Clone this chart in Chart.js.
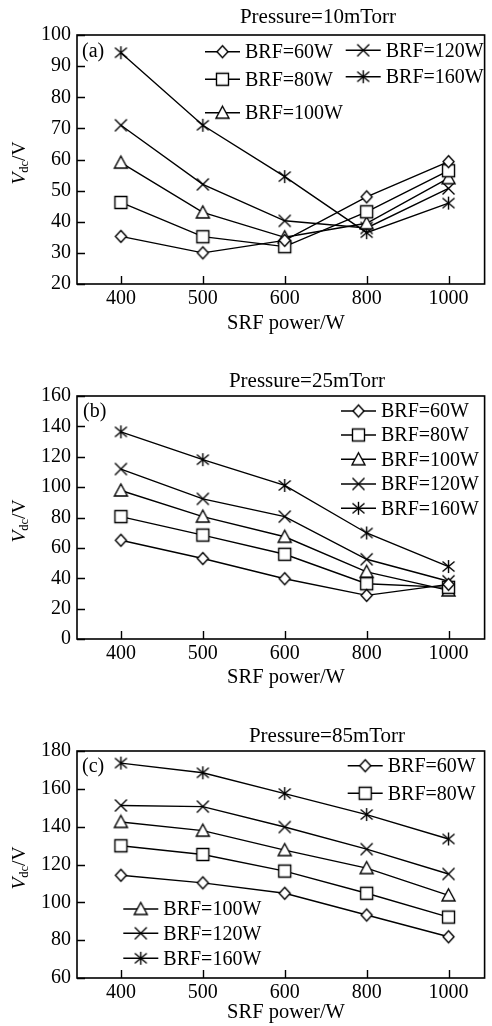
<!DOCTYPE html>
<html><head><meta charset="utf-8">
<script src="https://cdn.jsdelivr.net/npm/chart.js@4.4.0/dist/chart.umd.min.js"></script>
<style>
html,body{margin:0;padding:0;background:#fff;width:492px;height:1026px;overflow:hidden}
canvas{position:absolute;left:0;display:block}
</style></head><body>
<canvas id="ca" width="492" height="345" style="top:0px"></canvas>
<canvas id="cb" width="492" height="355" style="top:340px"></canvas>
<canvas id="cc" width="492" height="341" style="top:685px"></canvas>
<script>
// ---- data ----
const categories = ['400', '500', '600', '800', '1000'];
const seriesLabels = ['BRF=60W', 'BRF=80W', 'BRF=100W', 'BRF=120W', 'BRF=160W'];

const a60  = [35.3, 30.0, 34.0, 48.0, 59.3];
const a80  = [46.2, 35.2, 32.0, 43.2, 56.4];
const a100 = [59.0, 43.0, 35.0, 39.5, 54.0];
const a120 = [71.0, 52.0, 40.3, 38.0, 50.7];
const a160 = [94.3, 71.0, 54.5, 36.5, 46.0];

const b60  = [65.0, 53.0, 39.7, 28.7, 36.0];
const b80  = [80.6, 68.4, 55.8, 36.4, 34.0];
const b100 = [97.8, 80.6, 67.3, 44.2, 32.0];
const b120 = [111.9, 92.3, 80.6, 52.5, 38.0];
const b160 = [136.4, 118.1, 101.1, 69.8, 47.7];

const c60  = [114.3, 110.3, 104.8, 93.3, 81.8];
const c80  = [129.9, 125.3, 116.5, 104.8, 92.2];
const c100 = [142.5, 137.9, 127.6, 118.1, 103.7];
const c120 = [151.2, 150.6, 139.8, 128.1, 115.0];
const c160 = [173.6, 168.5, 157.5, 146.4, 133.5];

const yTicksA = [20, 100, 10];
const yTicksB = [0, 160, 20];
const yTicksC = [60, 180, 20];

const titles = ['Pressure=10mTorr', 'Pressure=25mTorr', 'Pressure=85mTorr'];
const tags = ['(a)', '(b)', '(c)'];

// ---- styling ----
const FONT = "'Liberation Serif', 'Times New Roman', serif";

function makeMarker(kind) {
  const s = 17, c = document.createElement('canvas');
  c.width = s; c.height = s;
  const g = c.getContext('2d');
  g.lineWidth = 1.4; g.strokeStyle = '#000'; g.fillStyle = '#fff';
  const m = s / 2;
  g.beginPath();
  if (kind === 'diamond') {
    g.moveTo(m, m - 6); g.lineTo(m + 5.5, m); g.lineTo(m, m + 6); g.lineTo(m - 5.5, m); g.closePath();
    g.fill(); g.stroke();
  } else if (kind === 'square') {
    g.rect(m - 6, m - 6, 12, 12); g.fill(); g.stroke();
  } else if (kind === 'triangle') {
    g.moveTo(m, m - 6.5); g.lineTo(m + 6.5, m + 5.5); g.lineTo(m - 6.5, m + 5.5); g.closePath();
    g.fill(); g.stroke();
  } else if (kind === 'x') {
    g.moveTo(m - 6, m - 6); g.lineTo(m + 6, m + 6);
    g.moveTo(m + 6, m - 6); g.lineTo(m - 6, m + 6); g.stroke();
  } else if (kind === 'star') {
    g.moveTo(m - 6, m - 5); g.lineTo(m + 6, m + 5);
    g.moveTo(m + 6, m - 5); g.lineTo(m - 6, m + 5);
    g.moveTo(m, m - 6.5); g.lineTo(m, m + 6.5); g.stroke();
  }
  return c;
}
const markers = ['diamond', 'square', 'triangle', 'x', 'star'].map(makeMarker);

const panels = [
  { id: 'ca', H: 345, series: [a60, a80, a100, a120, a160], yr: yTicksA, title: titles[0], tag: tags[0],
    padTop: 35, xH: 61, titleX: 318, titleDY: -18, xTitleDY: 40,
    tagPos: [82, 52],
    legend: [[0, 205, 51.7], [1, 205, 79.3], [2, 205, 112.7], [3, 345.7, 50.3], [4, 345.7, 76.7]] },
  { id: 'cb', H: 355, series: [b60, b80, b100, b120, b160], yr: yTicksB, title: titles[1], tag: tags[1],
    padTop: 56, xH: 56, titleX: 307, titleDY: -14.5, xTitleDY: 39,
    tagPos: [83, 71.5],
    legend: [[0, 341, 71], [1, 341, 95], [2, 341, 119.3], [3, 341, 144], [4, 341, 168.3]] },
  { id: 'cc', H: 341, series: [c60, c80, c100, c120, c160], yr: yTicksC, title: titles[2], tag: tags[2],
    padTop: 66, xH: 48, titleX: 327, titleDY: -15, xTitleDY: 35,
    tagPos: [82, 81.7],
    legend: [[0, 347.7, 80.7], [1, 347.7, 108.3], [2, 123.3, 224], [3, 123.3, 248.3], [4, 123.3, 273.3]] }
];

function framePlugin(p) {
  return {
    id: 'frame' + p.id,
    afterDatasetsDraw(chart) {
      const ctx = chart.ctx, a = chart.chartArea;
      ctx.save();
      ctx.strokeStyle = '#000'; ctx.fillStyle = '#000';
      // frame
      ctx.lineWidth = 1.6;
      ctx.strokeRect(a.left, a.top, a.right - a.left, a.bottom - a.top);
      // inward ticks
      ctx.lineWidth = 1.4;
      ctx.beginPath();
      const xs = chart.scales.x, ys = chart.scales.y;
      xs.ticks.forEach((t, i) => {
        const px = Math.round(xs.getPixelForTick(i)) + 0.5;
        ctx.moveTo(px, a.bottom); ctx.lineTo(px, a.bottom - 8);
      });
      ys.ticks.forEach((t, i) => {
        const py = Math.round(ys.getPixelForTick(i)) + 0.5;
        ctx.moveTo(a.left, py); ctx.lineTo(a.left + 8, py);
      });
      ctx.stroke();
      // title
      ctx.textBaseline = 'middle';
      ctx.textAlign = 'center';
      ctx.font = '21px ' + FONT;
      ctx.fillText(p.title, p.titleX, a.top + p.titleDY);
      // x-axis title
      ctx.font = '20.5px ' + FONT;
      ctx.fillText('SRF power/W', 286, a.bottom + p.xTitleDY);
      // panel tag
      ctx.textAlign = 'left';
      ctx.font = '20px ' + FONT;
      ctx.fillText(p.tag, p.tagPos[0], p.tagPos[1]);
      // y title: V_dc/V rotated
      const cy = (a.top + a.bottom) / 2 + 3.5;
      ctx.save();
      ctx.translate(20, cy);
      ctx.rotate(-Math.PI / 2);
      const f1 = 'italic 19.5px ' + FONT, f2 = '12.5px ' + FONT, f3 = '19.5px ' + FONT;
      ctx.font = f1; const w1 = ctx.measureText('V').width;
      ctx.font = f2; const w2 = ctx.measureText('dc').width;
      ctx.font = f3; const w3 = ctx.measureText('/V').width;
      let x0 = -(w1 + w2 + w3) / 2;
      ctx.textAlign = 'left';
      ctx.font = f1; ctx.fillText('V', x0, 0); x0 += w1;
      ctx.font = f2; ctx.fillText('dc', x0, 5); x0 += w2;
      ctx.font = f3; ctx.fillText('/V', x0, 0);
      ctx.restore();
      // legend
      ctx.font = '20px ' + FONT;
      ctx.textAlign = 'left';
      ctx.lineWidth = 1.4;
      p.legend.forEach(([i, lx, ly]) => {
        ctx.beginPath();
        ctx.moveTo(lx, ly); ctx.lineTo(lx + 35, ly); ctx.stroke();
        const mk = markers[i];
        ctx.drawImage(mk, lx + 17.5 - mk.width / 2, ly - mk.height / 2);
        ctx.fillText(chart.data.datasets[i].label, lx + 40, ly + 1);
      });
      ctx.restore();
    }
  };
}

function build(p) {
  const el = document.getElementById(p.id);
  new Chart(el, {
    type: 'line',
    data: {
      datasets: p.series.map((vals, i) => ({
        label: seriesLabels[i],
        data: vals.map((v, j) => ({ x: j, y: v })),
        borderColor: '#000', backgroundColor: '#fff', borderWidth: 1.4,
        pointStyle: markers[i], pointRadius: 6, tension: 0, fill: false
      }))
    },
    options: {
      responsive: false, animation: false, events: [],
      layout: { padding: { top: p.padTop, right: 2, left: 0, bottom: 0 } },
      plugins: { legend: { display: false }, title: { display: false }, tooltip: { enabled: false } },
      scales: {
        x: {
          type: 'linear', min: -0.536, max: 4.44,
          grid: { display: false, drawTicks: false }, border: { display: false },
          ticks: { stepSize: 1, includeBounds: false, autoSkip: false, maxRotation: 0, padding: 3,
                   color: '#000', font: { family: FONT, size: 20 },
                   callback: v => (Number.isInteger(v) && categories[v] !== undefined) ? categories[v] : '' },
          afterFit: s => { s.height = p.xH; s.paddingLeft = 0; s.paddingRight = 0; }
        },
        y: {
          min: p.yr[0], max: p.yr[1],
          grid: { display: false, drawTicks: false }, border: { display: false },
          ticks: { stepSize: p.yr[2], padding: 6, color: '#000', font: { family: FONT, size: 20 } },
          afterFit: s => { s.width = 77; s.paddingTop = 0; s.paddingBottom = 0; }
        }
      }
    },
    plugins: [framePlugin(p)]
  });
}
panels.forEach(build);
</script>
</body></html>
